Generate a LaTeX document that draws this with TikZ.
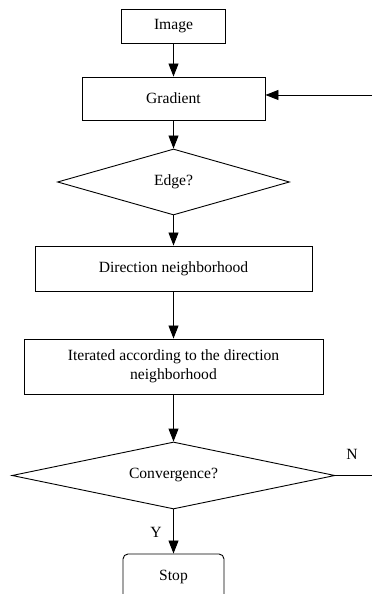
\documentclass[tikz,border=0pt]{standalone}
\usepackage{fontspec}
\setmainfont{Liberation Serif}
\usetikzlibrary{arrows.meta,shapes.geometric}
\begin{document}
\begin{tikzpicture}[x=1pt, y=1pt, >={Triangle[length=13pt,width=10pt]},
  every node/.style={font=\fontsize{15.6}{19}\selectfont},
  box/.style={draw, line width=0.9pt, inner sep=0pt},
  decision/.style={draw, diamond, line width=0.9pt, inner sep=0pt},
  link/.style={->, line width=0.9pt}]

  % --- 1. frame ---
  \useasboundingbox (0,0) rectangle (372,594);
  \clip (0,0) rectangle (372,594);

  % --- 2. steps ---
  \node[box, minimum width=104, minimum height=34] (img) at (173.5,568) {Image};
  \node[box, minimum width=183, minimum height=43] (grad) at (173.5,495.5) {Gradient};
  \node[decision, minimum width=232, minimum height=66, aspect=3.5] (edge) at (173.5,412) {Edge?};
  \node[box, minimum width=277, minimum height=45] (dir) at (173.5,325.5) {Direction neighborhood};
  \node[box, minimum width=299, minimum height=55, align=center] (iter) at (173.5,227.5)
    {Iterated according to the direction\\neighborhood};
  \node[decision, minimum width=323, minimum height=67, aspect=4.8] (conv) at (173.5,118.5) {Convergence?};
  \node[box, rounded corners=5pt, minimum width=101, minimum height=46] (stop) at (173.5,17) {Stop};

  % --- 3. arrows ---
  \draw[link] (img) -- (grad);
  \draw[link] (grad) -- (edge);
  \draw[link] (edge) -- (dir);
  \draw[link] (dir) -- (iter);
  \draw[link] (iter) -- (conv);
  \draw[link] (conv) -- (stop);

  % --- 4. loop back (N) ---
  \coordinate (nend) at (372,118.5);
  \coordinate (fb) at (372,499);
  \draw[line width=0.9pt] (conv.east) -- (nend);
  \draw[link] (fb) -- (fb -| grad.east);

  % --- 5. labels ---
  \node (nlab) at (352,140) {N};
  \node (ylab) at (156,62) {Y};

\end{tikzpicture}
\end{document}
